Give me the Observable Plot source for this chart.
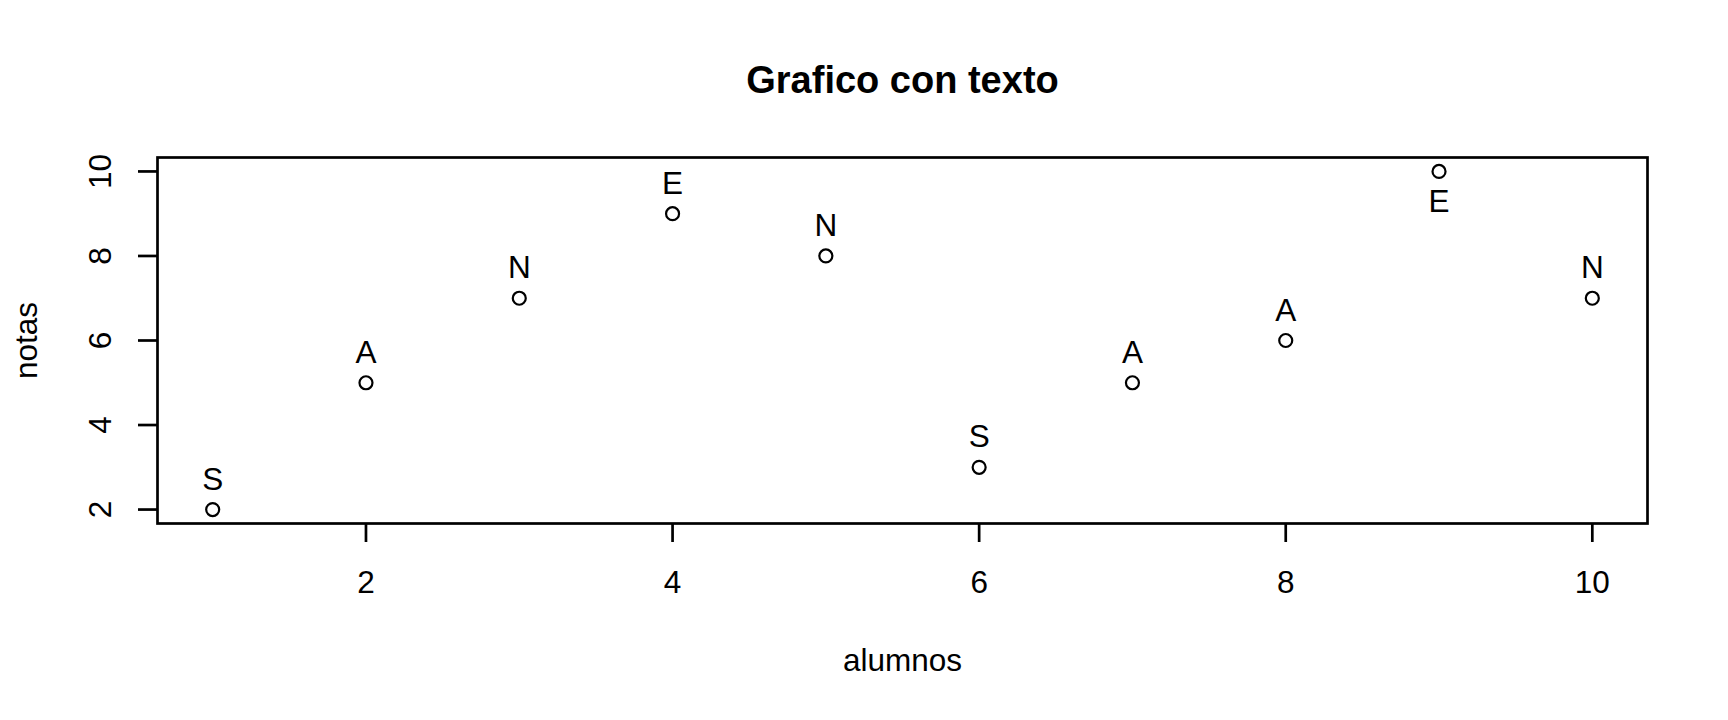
<!DOCTYPE html>
<html>
<head>
<meta charset="utf-8">
<script src="https://cdn.jsdelivr.net/npm/d3@7"></script>
<script src="https://cdn.jsdelivr.net/npm/@observablehq/plot@0.6"></script>
<style>
  html, body { margin: 0; padding: 0; background: #fff; }
  svg { display: block; }
</style>
</head>
<body>
<div id="chart"></div>
<script>
const alumnos = [1, 2, 3, 4, 5, 6, 7, 8, 9, 10];
const notas = [2, 5, 7, 9, 8, 3, 5, 6, 10, 7];
const letras = ["S", "A", "N", "E", "N", "S", "A", "A", "E", "N"];
const posicion = ["arriba", "arriba", "arriba", "arriba", "arriba", "arriba", "arriba", "arriba", "abajo", "arriba"];
const xTicks = [2, 4, 6, 8, 10];
const yTicks = [2, 4, 6, 8, 10];
const titulo = "Grafico con texto";
const xLabel = "alumnos";
const yLabel = "notas";

const data = alumnos.map((a, i) => ({alumno: a, nota: notas[i], letra: letras[i], pos: posicion[i]}));
const font = "'Liberation Sans', Arial, sans-serif";
const fs = 31.5;

const chart = Plot.plot({
  width: 1728,
  height: 720,
  marginLeft: 157,
  marginRight: 81,
  marginTop: 157,
  marginBottom: 197,
  style: {fontFamily: font, background: "#fff", color: "#000"},
  x: {domain: [0.64, 10.36], axis: null},
  y: {domain: [1.67, 10.33], axis: null},
  marks: [
    Plot.frame({stroke: "#000", strokeWidth: 2.7}),
    Plot.axisX({ticks: xTicks, tickSize: 19, tickPadding: 28, fontSize: fs, strokeWidth: 2.7, label: null, stroke: "#000", fill: "#000"}),
    Plot.axisY({ticks: yTicks, tickSize: 19, tickFormat: () => "", strokeWidth: 2.7, label: null, stroke: "#000"}),
    Plot.text(yTicks, {x: null, y: d => d, text: d => String(d), frameAnchor: "left", dx: -57, rotate: -90, textAnchor: "middle", lineAnchor: "middle", fontSize: fs, fill: "#000"}),
    Plot.dot(data, {x: "alumno", y: "nota", r: 6.5, stroke: "#000", strokeWidth: 2.2, fill: "none"}),
    Plot.text(data.filter(d => d.pos === "arriba"), {x: "alumno", y: "nota", text: "letra", dy: -30, fontSize: fs, lineAnchor: "middle", fill: "#000"}),
    Plot.text(data.filter(d => d.pos === "abajo"), {x: "alumno", y: "nota", text: "letra", dy: 30, fontSize: fs, lineAnchor: "middle", fill: "#000"}),
    Plot.text([titulo], {frameAnchor: "top", dy: -77, fontSize: 38, fontWeight: "bold", textAnchor: "middle", lineAnchor: "middle", fill: "#000"}),
    Plot.text([xLabel], {frameAnchor: "bottom", dy: 137, fontSize: fs, textAnchor: "middle", lineAnchor: "middle", fill: "#000"}),
    Plot.text([yLabel], {frameAnchor: "left", dx: -131, rotate: -90, fontSize: fs, textAnchor: "middle", lineAnchor: "middle", fill: "#000"})
  ]
});
document.getElementById("chart").appendChild(chart);
</script>
</body>
</html>
